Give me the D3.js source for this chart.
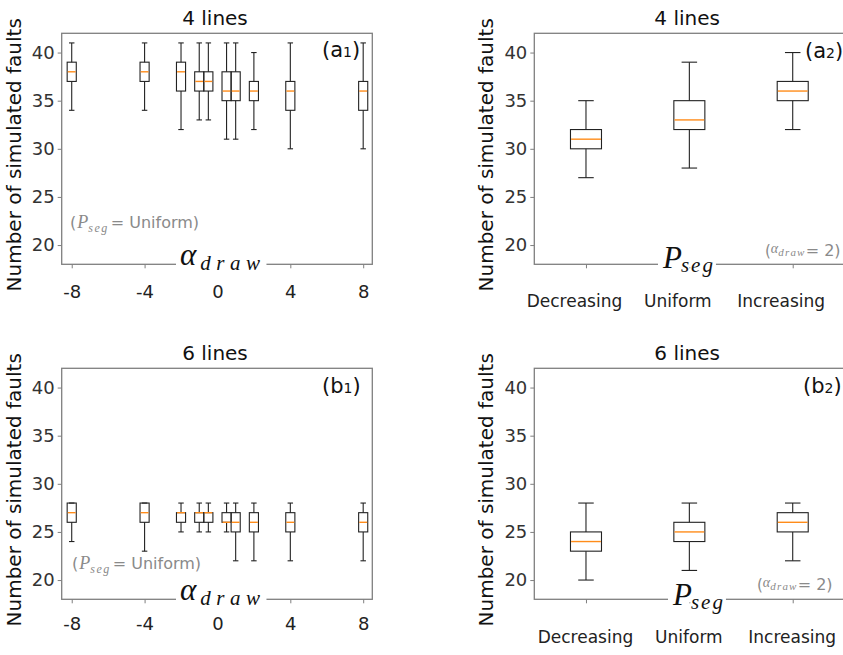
<!DOCTYPE html>
<html>
<head>
<meta charset="utf-8">
<script src="https://cdn.jsdelivr.net/npm/d3@7"></script>
<style>
  body { margin: 0; background: #fff; }
  svg { display: block; font-family: "DejaVu Sans", sans-serif; }
</style>
</head>
<body>
<div class="chart"></div>
<script>
(() => {
  // alpha_draw positions and ticks (left column)
  const alphaPos = [-8, -4, -2, -1, -0.5, 0.5, 1, 2, 4, 8];
  const alphaTicks = [-8, -4, 0, 4, 8];
  // P_seg categories (right column)
  const psegCats = ["Decreasing", "Uniform", "Increasing"];
  const yTicks = [20, 25, 30, 35, 40];

  // each row: [low whisker, q1, median, q3, high whisker]
  const a1Stats = [
    [34, 37, 38, 39, 41], [34, 37, 38, 39, 41], [32, 36, 38, 39, 41],
    [33, 36, 37, 38, 41], [33, 36, 37, 38, 41], [31, 35, 36, 38, 41],
    [31, 35, 36, 38, 41], [32, 35, 36, 37, 40], [30, 34, 36, 37, 41],
    [30, 34, 36, 37, 41],
  ];
  const b1Stats = [
    [24, 26, 27, 28, 28], [23, 26, 27, 28, 28], [25, 26, 27, 27, 28],
    [25, 26, 27, 27, 28], [25, 26, 27, 27, 28], [25, 26, 26, 27, 28],
    [22, 25, 26, 27, 28], [22, 25, 26, 27, 28], [22, 25, 26, 27, 28],
    [22, 25, 26, 27, 28],
  ];
  const a2Stats = [[27, 30, 31, 32, 35], [28, 32, 33, 35, 39], [32, 35, 36, 37, 40]];
  const b2Stats = [[20, 23, 24, 25, 28], [21, 24, 25, 26, 28], [22, 25, 26, 27, 28]];

  const W = 843, H = 655;
  const mathFont = "'Liberation Serif', 'DejaVu Serif', serif";
  const grey = "#8a8a8a";

  const svg = d3.select(".chart").append("svg")
    .attr("width", W).attr("height", H)
    .style("background", "#fff");

  const psegPos = psegCats.map((c, i) => i + 1);

  const panels = [
    { title: "4 lines", tag: ["(a", "1", ")"], tagX: 322, tagY: 57,
      left: 61.7, right: 372.3, top: 33.3, bottom: 264.3,
      xDomain: [-8.55, 8.5], pos: alphaPos, stats: a1Stats, boxW: 0.5, capW: 0.3,
      ticks: alphaTicks, tickFmt: (d) => d, tickPad: 17, tickDx: 0,
      xlab: "alpha", xlabX: 180, xlabY: 265,
      note: "pseg", noteX: 70, noteY: 228 },
    { title: "4 lines", tag: ["(a", "2", ")"], tagX: 805, tagY: 58,
      left: 534.3, right: 844.4, top: 33.3, bottom: 264.3,
      xDomain: [0.5, 3.5], pos: psegPos, stats: a2Stats, boxW: 0.3, capW: 0.15,
      ticks: psegPos, tickFmt: (d) => psegCats[d - 1], tickPad: 27, tickDx: -12,
      xlab: "pseg", xlabX: 663, xlabY: 268,
      note: "alpha", noteX: 765, noteY: 256 },
    { title: "6 lines", tag: ["(b", "1", ")"], tagX: 322, tagY: 393,
      left: 61.7, right: 372.3, top: 368.3, bottom: 599.3,
      xDomain: [-8.55, 8.5], pos: alphaPos, stats: b1Stats, boxW: 0.5, capW: 0.3,
      ticks: alphaTicks, tickFmt: (d) => d, tickPad: 14, tickDx: 0,
      xlab: "alpha", xlabX: 180, xlabY: 600,
      note: "pseg", noteX: 72, noteY: 569 },
    { title: "6 lines", tag: ["(b", "2", ")"], tagX: 803, tagY: 393,
      left: 534.3, right: 844.4, top: 368.3, bottom: 599.3,
      xDomain: [0.5, 3.5], pos: psegPos, stats: b2Stats, boxW: 0.3, capW: 0.15,
      ticks: psegPos, tickFmt: (d) => psegCats[d - 1], tickPad: 28, tickDx: -1,
      xlab: "pseg", xlabX: 673, xlabY: 605,
      note: "alpha", noteX: 757, noteY: 590 },
  ];

  panels.forEach(drawPanel);

  function drawPanel(p) {
    const g = svg.append("g");
    const x = d3.scaleLinear().domain(p.xDomain).range([p.left, p.right]);
    const y = d3.scaleLinear().domain([18, 42]).range([p.bottom, p.top]);

    // y axis
    const yAxis = g.append("g")
      .attr("transform", `translate(${p.left},0)`)
      .call(d3.axisLeft(y).tickValues(yTicks).tickSize(4).tickPadding(3));
    yAxis.select(".domain").remove();
    yAxis.selectAll("line").attr("stroke", "#7f7f7f");
    yAxis.selectAll("text")
      .style("font-size", "18px").style("font-family", "'DejaVu Sans'").attr("fill", "#333");

    // x axis
    const xAxis = g.append("g")
      .attr("transform", `translate(0,${p.bottom})`)
      .call(d3.axisBottom(x).tickValues(p.ticks).tickFormat(p.tickFmt).tickSize(4).tickPadding(p.tickPad));
    xAxis.select(".domain").remove();
    xAxis.selectAll("line").attr("stroke", "#7f7f7f");
    xAxis.selectAll("text")
      .attr("dx", p.tickDx)
      .style("font-size", p.xlab === "pseg" ? "17px" : "18px")
      .style("font-family", "'DejaVu Sans'")
      .attr("fill", "#222");

    // frame
    g.append("rect")
      .attr("x", p.left).attr("y", p.top)
      .attr("width", p.right - p.left).attr("height", p.bottom - p.top)
      .attr("fill", "none").attr("stroke", "#7f7f7f").attr("stroke-width", 1.3);

    // boxes
    const bw = (x(p.boxW) - x(0));
    const cw = (x(p.capW) - x(0));
    const box = g.selectAll(".box").data(p.stats).enter().append("g").attr("class", "box");
    const cx = (d, i) => x(p.pos[i]);
    const stroke = (sel) => sel.attr("stroke", "#222").attr("stroke-width", 1.1).attr("fill", "none");

    box.append("line").call(stroke)
      .attr("x1", cx).attr("x2", cx).attr("y1", (d) => y(d[0])).attr("y2", (d) => y(d[1]));
    box.append("line").call(stroke)
      .attr("x1", cx).attr("x2", cx).attr("y1", (d) => y(d[3])).attr("y2", (d) => y(d[4]));
    box.append("line").call(stroke)
      .attr("x1", (d, i) => cx(d, i) - cw / 2).attr("x2", (d, i) => cx(d, i) + cw / 2)
      .attr("y1", (d) => y(d[0])).attr("y2", (d) => y(d[0]));
    box.append("line").call(stroke)
      .attr("x1", (d, i) => cx(d, i) - cw / 2).attr("x2", (d, i) => cx(d, i) + cw / 2)
      .attr("y1", (d) => y(d[4])).attr("y2", (d) => y(d[4]));
    box.append("rect").call(stroke)
      .attr("x", (d, i) => cx(d, i) - bw / 2).attr("width", bw)
      .attr("y", (d) => y(d[3])).attr("height", (d) => y(d[1]) - y(d[3]));
    box.append("line")
      .attr("stroke", "#ff8c1a").attr("stroke-width", 1.4)
      .attr("x1", (d, i) => cx(d, i) - bw / 2 + 0.6).attr("x2", (d, i) => cx(d, i) + bw / 2 - 0.6)
      .attr("y1", (d) => y(d[2])).attr("y2", (d) => y(d[2]));

    // title and panel tag
    g.append("text")
      .attr("x", (p.left + Math.min(p.right, 844)) / 2 - 2).attr("y", p.top - 8)
      .attr("text-anchor", "middle").style("font-size", "20px").attr("fill", "#111")
      .text(p.title);
    const tag = g.append("text").attr("x", p.tagX).attr("y", p.tagY)
      .style("font-size", "21px").attr("fill", "#111");
    tag.append("tspan").text(p.tag[0]);
    tag.append("tspan").style("font-size", "14px").text(p.tag[1]);
    tag.append("tspan").text(p.tag[2]);

    // y label
    g.append("text")
      .attr("transform", `translate(${p.left - 41},${(p.top + p.bottom) / 2 + 6}) rotate(-90)`)
      .attr("text-anchor", "middle").style("font-size", "20px").attr("fill", "#111")
      .text("Number of simulated faults");

    // x label (math) with a white patch over the bottom spine
    const xl = g.append("text").attr("x", p.xlabX).attr("y", p.xlabY)
      .style("font-family", mathFont).style("font-style", "italic").attr("fill", "#111");
    if (p.xlab === "alpha") {
      xl.append("tspan").style("font-size", "31px").text("α");
      xl.append("tspan").attr("dx", 4).attr("dy", 5).style("font-size", "21px")
        .style("letter-spacing", "5.5px").text("draw");
    } else {
      xl.append("tspan").style("font-size", "31px").text("P");
      xl.append("tspan").attr("dx", -1).attr("dy", 4).style("font-size", "21px")
        .style("letter-spacing", "2px").text("seg");
    }
    const bb = xl.node().getBBox();
    g.insert("rect", () => xl.node())
      .attr("x", bb.x - 4).attr("y", p.bottom - 3)
      .attr("width", bb.width + 5).attr("height", 6).attr("fill", "#fff");

    // grey note
    const nt = g.append("text").attr("x", p.noteX).attr("y", p.noteY).attr("fill", grey);
    if (p.note === "pseg") {
      nt.append("tspan").style("font-size", "16px").text("(");
      nt.append("tspan").attr("dx", 1).style("font-size", "18px")
        .style("font-family", mathFont).style("font-style", "italic").text("P");
      nt.append("tspan").attr("dy", 4).style("font-size", "12px")
        .style("font-family", mathFont).style("font-style", "italic")
        .style("letter-spacing", "1.5px").text("seg");
      nt.append("tspan").attr("dy", -4).attr("dx", 2).style("font-size", "16px").text("= Uniform)");
    } else {
      nt.append("tspan").style("font-size", "15px").text("(");
      nt.append("tspan").attr("dy", -3).style("font-size", "14px")
        .style("font-family", mathFont).style("font-style", "italic").text("α");
      nt.append("tspan").attr("dy", 3).style("font-size", "11px")
        .style("font-family", mathFont).style("font-style", "italic")
        .style("letter-spacing", "1.2px").text("draw");
      nt.append("tspan").style("font-size", "16px").text("= 2)");
    }
  }
})();
</script>
</body>
</html>
